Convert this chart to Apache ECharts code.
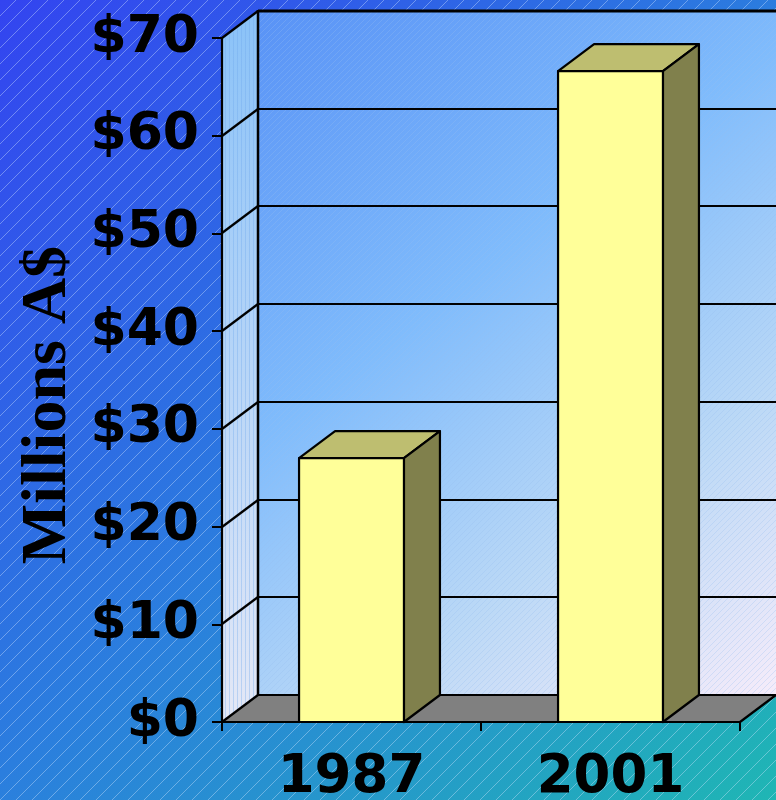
<!DOCTYPE html>
<html><head><meta charset="utf-8">
<script src="https://cdn.jsdelivr.net/npm/echarts@6/dist/echarts.min.js"></script>
<style>html,body{margin:0;padding:0;background:#2a6fe0}#c{width:776px;height:800px}</style>
</head><body><div id="c"></div>
<script>
// ---- data ----
const categories = ['1987', '2001'];
const values = [27.0, 66.6];
const yTicks = [0, 10, 20, 30, 40, 50, 60, 70];
const yTickLabels = ['$0', '$10', '$20', '$30', '$40', '$50', '$60', '$70'];
const yMin = 0, yMax = 70, yStep = 10;
const axisTitle = 'Millions A$';

// ---- style constants ----
const DX = 36, DY = -27;

function makePattern(w, h, draw) {
  const c = document.createElement('canvas');
  c.width = w; c.height = h;
  draw(c.getContext('2d'), w, h);
  return { image: c, repeat: 'repeat' };
}
function diag(color, step, lw) {
  return makePattern(step, step, (ctx, w, h) => {
    ctx.strokeStyle = color; ctx.lineWidth = lw;
    ctx.beginPath();
    ctx.moveTo(-1, h + 1); ctx.lineTo(w + 1, -1);
    ctx.moveTo(-1, 1); ctx.lineTo(1, -1);
    ctx.moveTo(w - 1, h + 1); ctx.lineTo(w + 1, h - 1);
    ctx.stroke();
  });
}
const bgPattern = diag('rgba(210,230,255,0.40)', 16, 1);
const backPattern = diag('rgba(150,190,240,0.30)', 6, 1);
const sidePattern = makePattern(4, 4, (ctx) => {
  ctx.fillStyle = 'rgba(110,165,235,0.35)';
  ctx.fillRect(1, 0, 1, 4);
});

const bgGrad = { type: 'linear', x: 0, y: 0, x2: 1, y2: 1, colorStops: [
  { offset: 0, color: '#3344f0' }, { offset: 0.5, color: '#2b7ede' }, { offset: 1, color: '#1fb6b4' }] };
const backGrad = { type: 'linear', x: 0, y: 0, x2: 1, y2: 1, colorStops: [
  { offset: 0, color: '#5892f6' }, { offset: 0.4, color: '#80bcfc' },
  { offset: 0.72, color: '#bcd9f6' }, { offset: 1, color: '#f6ecfa' }] };
const sideGrad = { type: 'linear', x: 0, y: 0, x2: 0, y2: 1, colorStops: [
  { offset: 0, color: '#8ac2f8' }, { offset: 1, color: '#e4e8f6' }] };

function renderWalls(params, api) {
  const cs = params.coordSys;
  const x0 = cs.x, x1 = cs.x + cs.width;
  const yB = api.coord([0, yMin])[1], yT = api.coord([0, yMax])[1];
  const ch = [];
  const side = [[x0, yT], [x0 + DX, yT + DY], [x0 + DX, yB + DY], [x0, yB]];
  ch.push({ type: 'polygon', shape: { points: side }, style: { fill: sideGrad } });
  ch.push({ type: 'polygon', shape: { points: side }, style: { fill: sidePattern } });
  const back = [[x0 + DX, yT + DY], [x1 + DX, yT + DY], [x1 + DX, yB + DY], [x0 + DX, yB + DY]];
  ch.push({ type: 'polygon', shape: { points: back }, style: { fill: backGrad } });
  ch.push({ type: 'polygon', shape: { points: back }, style: { fill: backPattern } });
  const floor = [[x0, yB], [x1, yB], [x1 + DX, yB + DY], [x0 + DX, yB + DY]];
  ch.push({ type: 'polygon', shape: { points: floor }, style: { fill: '#808080', stroke: '#000', lineWidth: 2.2, lineJoin: 'round' } });
  yTicks.forEach(v => {
    const y = Math.round(api.coord([0, v])[1]);
    const lw = v === yMax ? 3 : 2.2;
    if (v !== yMin) {
      ch.push({ type: 'line', shape: { x1: x0 + DX, y1: y + DY, x2: x1 + DX + 2, y2: y + DY }, style: { stroke: '#000', lineWidth: lw } });
      ch.push({ type: 'line', shape: { x1: x0, y1: y, x2: x0 + DX, y2: y + DY }, style: { stroke: '#000', lineWidth: 2.2 } });
    }
  });
  ch.push({ type: 'line', shape: { x1: x0 + DX, y1: yT + DY - 1, x2: x0 + DX, y2: yB + DY }, style: { stroke: '#000', lineWidth: 2.5 } });
  return { type: 'group', children: ch };
}

function renderBar(params, api) {
  const i = api.value(0), v = api.value(1);
  const top = api.coord([i, v]), base = api.coord([i, yMin]);
  const w = api.size([1, 0])[0] * 0.405;
  const xl = top[0] - w / 2, xr = top[0] + w / 2, yt = top[1], yb = base[1];
  const st = { stroke: '#000', lineWidth: 2.2, lineJoin: 'round' };
  return { type: 'group', children: [
    { type: 'polygon', shape: { points: [[xl, yt], [xr, yt], [xr + DX, yt + DY], [xl + DX, yt + DY]] }, style: Object.assign({ fill: '#bebe70' }, st) },
    { type: 'polygon', shape: { points: [[xr, yt], [xr + DX, yt + DY], [xr + DX, yb + DY], [xr, yb]] }, style: Object.assign({ fill: '#80804c' }, st) },
    { type: 'rect', shape: { x: xl, y: yt, width: w, height: yb - yt }, style: Object.assign({ fill: '#ffff99' }, st) }
  ] };
}

const chart = echarts.init(document.getElementById('c'), null, { renderer: 'canvas' });
chart.setOption({
  animation: false,
  backgroundColor: bgGrad,
  graphic: [
    { type: 'rect', z: -10, silent: true, shape: { x: 0, y: 0, width: 776, height: 800 }, style: { fill: bgPattern } },
    { type: 'text', z: 10, x: 48, y: 405, rotation: Math.PI / 2,
      style: { text: axisTitle, font: 'bold 64px "Liberation Serif"', fill: '#000', align: 'center', verticalAlign: 'middle' } }
  ],
  grid: { left: 222, right: 36, top: 38, bottom: 78, containLabel: false, outerBoundsMode: 'none' },
  xAxis: {
    type: 'category', data: categories, boundaryGap: true, z: 10,
    axisLine: { show: true, lineStyle: { color: '#000', width: 2.2 } },
    axisTick: { show: true, length: 9, lineStyle: { color: '#000', width: 2 } },
    axisLabel: { color: '#000', fontFamily: 'DejaVu Sans', fontWeight: 'bold', fontSize: 53, margin: 30 },
    splitLine: { show: false }
  },
  yAxis: {
    type: 'value', min: yMin, max: yMax, interval: yStep, z: 10,
    axisLine: { show: true, lineStyle: { color: '#000', width: 2.2 } },
    axisTick: { show: true, length: 10, lineStyle: { color: '#000', width: 2 } },
    axisLabel: { color: '#000', fontFamily: 'DejaVu Sans', fontWeight: 'bold', fontSize: 52, margin: 23,
      formatter: v => yTickLabels[yTicks.indexOf(v)] },
    splitLine: { show: false }
  },
  series: [
    { type: 'custom', z: 1, silent: true, clip: false, renderItem: renderWalls, data: [[0, 0]] },
    { type: 'custom', z: 3, silent: true, clip: false, renderItem: renderBar,
      data: values.map((v, i) => [i, v]) }
  ]
});
</script>
</body></html>
